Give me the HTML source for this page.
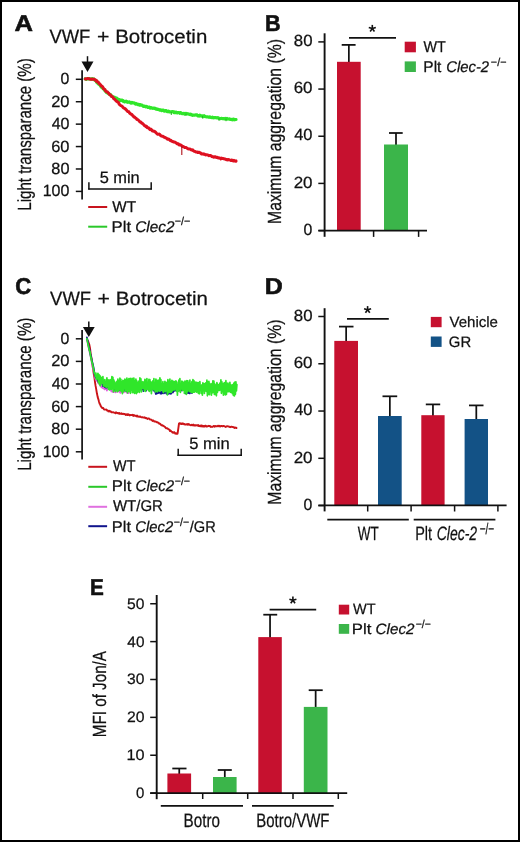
<!DOCTYPE html>
<html><head><meta charset="utf-8"><style>
html,body{margin:0;padding:0;background:#fff;}
body{width:520px;height:842px;overflow:hidden;position:relative;font-family:"Liberation Sans",sans-serif;}
#frame{position:absolute;left:0;top:0;width:516px;height:838px;border:2px solid #000;background:#fff;}
svg{position:absolute;left:0;top:0;will-change:transform;}
</style></head><body><div id="frame"></div>
<svg width="520" height="842" viewBox="0 0 520 842" font-family='"Liberation Sans", sans-serif' fill="#111" text-rendering="geometricPrecision"><line x1="82.10" y1="70.20" x2="82.10" y2="199.50" stroke="#111" stroke-width="1.7" stroke-linecap="butt"/><line x1="75.80" y1="79.30" x2="82.10" y2="79.30" stroke="#111" stroke-width="1.5" stroke-linecap="butt"/><line x1="75.80" y1="101.72" x2="82.10" y2="101.72" stroke="#111" stroke-width="1.5" stroke-linecap="butt"/><line x1="75.80" y1="124.14" x2="82.10" y2="124.14" stroke="#111" stroke-width="1.5" stroke-linecap="butt"/><line x1="75.80" y1="146.56" x2="82.10" y2="146.56" stroke="#111" stroke-width="1.5" stroke-linecap="butt"/><line x1="75.80" y1="168.98" x2="82.10" y2="168.98" stroke="#111" stroke-width="1.5" stroke-linecap="butt"/><line x1="75.80" y1="191.40" x2="82.10" y2="191.40" stroke="#111" stroke-width="1.5" stroke-linecap="butt"/><line x1="87.50" y1="56.20" x2="87.50" y2="62.50" stroke="#111" stroke-width="1.5" stroke-linecap="butt"/><path d="M81.50 61.50 L93.50 61.50 L87.50 71.90 Z" fill="#111"/><line x1="88.20" y1="188.90" x2="151.90" y2="188.90" stroke="#111" stroke-width="1.5" stroke-linecap="butt"/><line x1="88.90" y1="182.30" x2="88.90" y2="189.60" stroke="#111" stroke-width="1.5" stroke-linecap="butt"/><line x1="151.20" y1="182.30" x2="151.20" y2="189.60" stroke="#111" stroke-width="1.5" stroke-linecap="butt"/><path d="M85.2 78.9L85.6 79.0L86.2 79.3L86.9 78.9L87.7 78.9L88.5 79.0L89.3 78.6L90.2 78.9L91.0 79.1L91.8 79.3L92.5 78.7L93.1 79.0L94.1 79.1L94.9 80.3L95.5 80.7L96.1 80.7L96.8 82.3L97.5 83.0L98.3 83.6L99.0 84.5L99.8 85.0L100.5 85.7L101.2 87.0L102.0 87.4L102.7 88.2L103.5 89.0L104.2 89.5L104.9 90.7L105.7 91.3L106.4 92.4L107.2 92.6L107.9 93.3L108.6 93.7L109.3 94.3L110.1 94.6L110.8 94.8L111.5 96.0L112.2 96.5L113.0 96.8L113.7 97.2L114.5 97.3L115.2 97.6L115.9 98.1L116.7 98.2L117.4 99.2L118.2 99.1L118.9 99.8L119.6 99.7L120.2 100.5L120.9 100.6L121.6 100.0L122.6 100.5L123.2 101.4L123.9 101.1L124.6 101.8L125.4 101.4L126.2 101.2L127.0 102.0L127.8 102.3L128.6 102.0L129.3 101.9L130.0 102.3L130.8 103.1L131.4 103.1L131.9 102.5L132.5 102.8L133.2 102.8L134.1 102.9L135.4 104.0L135.9 103.5L136.4 104.0L137.0 104.1L137.6 104.0L138.2 104.7L138.9 104.3L139.6 105.0L140.3 104.6L141.0 105.1L141.7 105.1L142.5 105.4L143.2 106.3L144.0 106.3L144.8 106.1L145.6 106.8L146.3 106.4L147.1 106.8L147.9 107.4L148.6 107.4L149.4 107.1L150.1 108.1L150.8 107.5L151.5 107.7L152.3 108.4L153.0 108.1L153.7 108.3L154.5 108.2L155.2 108.4L155.9 109.1L156.7 108.9L157.4 109.4L158.1 109.3L158.9 109.5L159.6 110.2L160.3 109.9L161.1 110.1L161.8 110.6L162.5 110.0L163.3 110.1L164.0 111.0L164.7 111.1L165.5 110.6L166.2 110.7L166.9 111.4L167.7 111.7L168.5 111.1L169.2 111.9L170.0 112.0L170.8 111.8L171.6 111.8L172.3 111.6L173.1 111.6L173.9 112.6L174.7 112.0L175.4 112.6L176.2 112.2L176.9 112.9L177.6 112.8L178.3 112.6L179.0 112.5L179.7 113.2L180.3 112.6L180.9 112.8L181.5 113.3L182.4 113.7L183.3 113.6L184.1 113.4L184.8 114.1L185.4 113.5L186.0 113.4L186.7 113.8L187.3 114.0L187.9 113.8L188.5 114.0L189.2 114.3L190.0 114.6L190.6 114.2L191.3 114.5L192.0 115.2L192.7 115.3L193.4 115.1L194.1 115.2L194.8 115.2L195.5 114.8L196.3 114.8L197.0 114.9L197.7 115.9L198.4 115.7L199.2 116.1L199.9 115.2L200.6 115.9L201.3 115.9L202.0 116.2L202.7 115.9L203.4 116.6L204.1 115.8L204.8 116.4L205.6 116.6L206.3 116.9L207.0 116.8L207.7 116.9L208.4 117.0L209.1 117.3L209.8 116.8L210.5 117.2L211.2 117.5L211.9 117.6L212.6 117.2L213.3 117.7L213.9 117.8L214.6 117.6L215.3 117.7L216.0 117.6L216.7 117.9L217.3 118.0L218.0 117.6L218.7 118.2L219.5 118.6L220.2 118.6L220.9 118.5L221.7 118.3L222.4 118.7L223.1 118.6L223.8 118.6L224.6 119.0L225.4 118.4L226.2 119.1L227.0 118.4L227.8 119.1L228.6 119.0L229.4 118.9L230.2 119.4L230.9 119.3L231.6 119.5L232.3 119.8L232.9 119.2L233.5 119.0L234.0 119.4L234.4 119.8L236.0 119.5L236.0 119.5" fill="none" stroke="#30E62A" stroke-width="3.2" stroke-linejoin="round" stroke-linecap="round"/><path d="M85.2 78.9L85.6 79.1L86.2 79.1L86.9 78.6L87.7 78.4L88.5 78.8L89.3 78.7L90.2 79.3L91.0 79.2L91.8 79.1L92.5 79.2L93.1 79.4L94.1 79.1L94.9 79.7L95.5 79.9L96.1 81.1L96.8 80.8L97.5 82.1L98.3 82.1L99.0 83.5L99.8 83.9L100.5 84.8L101.2 86.1L102.0 86.1L102.7 87.0L103.5 88.7L104.2 89.1L104.9 89.5L105.7 91.1L106.4 91.8L107.2 91.7L107.9 92.7L108.6 93.1L109.3 94.0L110.1 95.0L110.8 95.2L111.5 96.4L112.2 96.5L113.0 97.3L113.7 98.7L114.5 99.1L115.2 99.8L115.9 100.7L116.7 101.3L117.4 101.9L118.2 102.2L118.9 103.6L119.6 104.6L120.3 105.2L121.0 105.6L121.8 106.0L122.6 106.8L123.2 107.6L123.9 108.2L124.6 108.2L125.3 108.9L126.0 109.6L126.8 110.5L127.7 111.5L128.3 111.7L128.9 111.8L129.6 113.2L130.3 113.4L131.0 114.2L131.8 114.5L132.5 115.4L133.2 116.0L134.0 117.0L134.7 117.0L135.4 118.0L136.2 118.3L136.9 119.5L137.7 119.5L138.5 120.3L139.2 121.0L140.0 121.9L140.8 122.0L141.6 123.0L142.3 123.3L143.1 124.0L143.8 124.7L144.5 125.7L145.2 125.7L145.9 126.7L146.6 126.4L147.3 127.7L148.0 127.6L148.7 127.9L149.4 128.9L150.1 129.6L150.8 129.1L151.6 129.9L152.3 130.9L153.1 130.9L153.9 131.3L154.7 131.5L155.4 132.0L156.2 133.0L157.0 133.8L157.7 134.3L158.5 134.2L159.3 134.1L160.0 134.8L160.8 135.7L161.6 136.1L162.4 136.3L163.1 136.3L163.9 137.0L164.7 137.3L165.4 137.8L166.2 137.9L167.0 138.9L167.7 139.3L168.5 138.9L169.2 139.4L170.0 140.4L170.8 140.2L171.5 141.2L172.3 141.2L173.0 141.7L173.8 142.1L174.6 142.0L175.3 142.4L176.1 142.8L176.8 143.6L177.6 144.0L178.4 143.8L179.1 144.9L179.9 144.8L180.7 145.0L181.5 145.5L182.2 146.4L182.8 146.3L183.5 146.6L184.2 147.2L184.9 147.5L185.6 147.6L186.3 147.6L187.0 148.1L187.7 148.7L188.5 148.9L189.2 149.0L190.0 149.0L190.6 149.3L191.3 150.0L192.0 150.1L192.7 149.8L193.4 150.8L194.1 151.2L194.8 151.4L195.5 151.8L196.3 152.1L197.0 152.0L197.7 152.5L198.4 152.3L199.2 152.3L199.9 152.8L200.6 153.0L201.3 153.9L202.0 153.8L202.7 153.9L203.4 154.2L204.1 153.9L204.8 154.5L205.6 154.9L206.3 154.7L207.0 154.8L207.7 155.1L208.4 155.2L209.1 155.7L209.8 155.4L210.5 155.5L211.2 155.9L211.9 156.5L212.6 156.7L213.3 156.8L213.9 157.2L214.6 156.8L215.3 156.7L216.0 157.3L216.7 157.4L217.3 157.3L218.0 158.0L218.7 157.8L219.5 157.9L220.2 158.1L220.9 158.9L221.7 158.1L222.4 158.6L223.1 158.6L223.8 158.7L224.6 159.1L225.4 159.0L226.2 159.8L227.0 159.5L227.8 159.9L228.6 159.5L229.4 159.9L230.2 160.1L230.9 160.5L231.6 160.0L232.3 160.3L232.9 160.8L233.5 160.9L234.0 160.4L234.4 160.7L236.0 161.2L236.0 160.8" fill="none" stroke="#DE1020" stroke-width="3.0" stroke-linejoin="round" stroke-linecap="round"/><line x1="181.80" y1="146.00" x2="181.80" y2="155.00" stroke="#B01018" stroke-width="1.1" stroke-linecap="butt"/><line x1="171.30" y1="112.00" x2="171.30" y2="115.00" stroke="#22B822" stroke-width="1.0" stroke-linecap="butt"/><line x1="202.50" y1="116.00" x2="202.50" y2="118.50" stroke="#22B822" stroke-width="1.0" stroke-linecap="butt"/><line x1="219.00" y1="118.00" x2="219.00" y2="120.80" stroke="#22B822" stroke-width="1.0" stroke-linecap="butt"/><line x1="226.00" y1="118.80" x2="226.00" y2="121.20" stroke="#22B822" stroke-width="1.0" stroke-linecap="butt"/><line x1="186.00" y1="113.80" x2="186.00" y2="115.80" stroke="#22B822" stroke-width="1.0" stroke-linecap="butt"/><line x1="88.20" y1="207.00" x2="107.20" y2="207.00" stroke="#C8141E" stroke-width="2.0" stroke-linecap="butt"/><line x1="88.20" y1="226.70" x2="107.20" y2="226.70" stroke="#2AC82A" stroke-width="2.0" stroke-linecap="butt"/><line x1="318.30" y1="41.90" x2="324.60" y2="41.90" stroke="#111" stroke-width="1.5" stroke-linecap="butt"/><line x1="318.30" y1="89.07" x2="324.60" y2="89.07" stroke="#111" stroke-width="1.5" stroke-linecap="butt"/><line x1="318.30" y1="136.24" x2="324.60" y2="136.24" stroke="#111" stroke-width="1.5" stroke-linecap="butt"/><line x1="318.30" y1="183.41" x2="324.60" y2="183.41" stroke="#111" stroke-width="1.5" stroke-linecap="butt"/><line x1="318.30" y1="230.58" x2="324.60" y2="230.58" stroke="#111" stroke-width="1.5" stroke-linecap="butt"/><line x1="348.85" y1="62.80" x2="348.85" y2="44.90" stroke="#111" stroke-width="1.75" stroke-linecap="butt"/><line x1="341.70" y1="44.90" x2="355.60" y2="44.90" stroke="#111" stroke-width="1.75" stroke-linecap="butt"/><rect x="337.00" y="61.80" width="23.70" height="168.80" fill="#C6112F"/><line x1="396.00" y1="145.50" x2="396.00" y2="133.00" stroke="#111" stroke-width="1.75" stroke-linecap="butt"/><line x1="389.00" y1="133.00" x2="402.70" y2="133.00" stroke="#111" stroke-width="1.75" stroke-linecap="butt"/><rect x="384.00" y="144.50" width="24.00" height="86.10" fill="#3BB54A"/><line x1="324.60" y1="33.30" x2="324.60" y2="236.80" stroke="#111" stroke-width="1.9" stroke-linecap="butt"/><line x1="318.40" y1="230.60" x2="427.00" y2="230.60" stroke="#111" stroke-width="1.9" stroke-linecap="butt"/><line x1="373.60" y1="230.60" x2="373.60" y2="236.90" stroke="#111" stroke-width="1.5" stroke-linecap="butt"/><line x1="418.60" y1="230.60" x2="418.60" y2="236.90" stroke="#111" stroke-width="1.5" stroke-linecap="butt"/><line x1="349.00" y1="37.80" x2="396.00" y2="37.80" stroke="#111" stroke-width="1.7" stroke-linecap="butt"/><line x1="372.30" y1="28.60" x2="372.30" y2="24.90" stroke="#111" stroke-width="1.6" stroke-linecap="butt"/><line x1="372.30" y1="28.60" x2="368.78" y2="27.46" stroke="#111" stroke-width="1.6" stroke-linecap="butt"/><line x1="372.30" y1="28.60" x2="370.13" y2="31.59" stroke="#111" stroke-width="1.6" stroke-linecap="butt"/><line x1="372.30" y1="28.60" x2="374.47" y2="31.59" stroke="#111" stroke-width="1.6" stroke-linecap="butt"/><line x1="372.30" y1="28.60" x2="375.82" y2="27.46" stroke="#111" stroke-width="1.6" stroke-linecap="butt"/><rect x="404.70" y="41.70" width="11.20" height="10.60" fill="#C6112F"/><rect x="404.70" y="61.40" width="11.20" height="10.60" fill="#3BB54A"/><line x1="82.10" y1="330.00" x2="82.10" y2="459.50" stroke="#111" stroke-width="1.7" stroke-linecap="butt"/><line x1="75.80" y1="338.80" x2="82.10" y2="338.80" stroke="#111" stroke-width="1.5" stroke-linecap="butt"/><line x1="75.80" y1="361.40" x2="82.10" y2="361.40" stroke="#111" stroke-width="1.5" stroke-linecap="butt"/><line x1="75.80" y1="384.00" x2="82.10" y2="384.00" stroke="#111" stroke-width="1.5" stroke-linecap="butt"/><line x1="75.80" y1="406.60" x2="82.10" y2="406.60" stroke="#111" stroke-width="1.5" stroke-linecap="butt"/><line x1="75.80" y1="429.20" x2="82.10" y2="429.20" stroke="#111" stroke-width="1.5" stroke-linecap="butt"/><line x1="75.80" y1="451.80" x2="82.10" y2="451.80" stroke="#111" stroke-width="1.5" stroke-linecap="butt"/><line x1="88.80" y1="321.50" x2="88.80" y2="328.00" stroke="#111" stroke-width="1.5" stroke-linecap="butt"/><path d="M82.90 327.00 L94.70 327.00 L88.80 337.00 Z" fill="#111"/><line x1="177.50" y1="455.30" x2="241.90" y2="455.30" stroke="#111" stroke-width="1.5" stroke-linecap="butt"/><line x1="178.20" y1="448.70" x2="178.20" y2="456.00" stroke="#111" stroke-width="1.5" stroke-linecap="butt"/><line x1="241.20" y1="448.70" x2="241.20" y2="456.00" stroke="#111" stroke-width="1.5" stroke-linecap="butt"/><path d="M86.9 338.9L87.5 340.2L88.3 341.7L89.2 344.3L90.0 348.0L90.7 353.7L91.5 358.5L92.3 363.8L93.0 368.5L93.8 374.1L94.4 377.5L95.0 382.1L95.6 385.9L96.2 389.1L96.9 393.3L97.7 397.1L98.5 399.6L99.0 401.8L99.6 403.6L100.1 404.3L100.8 406.2L101.5 407.1L102.1 408.0L102.6 407.9L103.2 408.0L103.9 409.3L104.6 409.6L105.4 409.6L106.2 409.5L106.7 409.9L107.2 410.6L107.8 410.4L108.3 411.4L108.9 411.1L109.5 410.8L110.1 411.6L110.8 411.4L111.5 412.3L112.2 412.4L113.0 412.1L113.8 412.5L114.3 412.7L114.9 412.9L115.4 413.2L116.0 412.2L116.7 412.7L117.3 413.2L118.0 412.9L118.6 413.4L119.3 412.9L120.0 414.0L120.7 413.7L121.4 413.3L122.0 414.1L122.7 413.8L123.3 413.8L124.0 414.2L124.6 413.9L125.1 414.1L125.7 415.0L126.2 414.8L127.0 414.1L127.7 415.1L128.4 414.3L129.1 414.8L129.7 415.5L130.3 415.2L130.9 414.9L131.4 415.0L132.0 415.1L132.6 414.8L133.2 415.9L133.8 414.9L134.4 415.4L135.1 415.9L135.7 415.6L136.4 416.4L137.0 415.6L137.6 416.6L138.3 416.7L138.9 416.5L139.6 416.9L140.2 416.5L140.9 417.1L141.5 417.3L142.1 417.1L142.8 417.2L143.4 417.6L144.1 417.5L144.7 417.3L145.3 418.2L146.0 417.9L146.6 418.3L147.3 418.9L147.9 418.4L148.6 418.4L149.2 418.7L149.8 419.5L150.5 419.5L151.1 419.6L151.8 420.1L152.5 420.9L153.1 420.4L153.8 420.8L154.4 421.6L155.0 421.6L155.7 421.5L156.3 422.0L156.9 422.3L157.6 422.2L158.2 422.8L158.8 423.0L159.4 423.9L160.0 423.7L160.7 424.4L161.3 425.2L161.9 425.5L162.5 425.2L163.1 425.8L163.7 425.9L164.3 426.4L165.0 426.9L165.6 427.8L166.2 428.4L166.9 428.1L167.5 428.3L168.2 429.3L168.8 429.3L169.4 429.7L170.0 431.0L170.6 430.5L171.3 431.6L171.9 431.6L172.6 432.6L173.3 432.8L174.0 432.1L174.6 432.5L175.2 433.7L175.7 433.4L176.2 433.3L176.6 433.8L177.5 433.8L177.8 432.0L178.4 427.9L179.0 423.5L179.4 423.2L179.8 423.1L181.0 424.0L181.4 424.0L181.8 423.4L182.2 424.0L182.7 423.4L183.2 423.5L183.8 424.2L184.3 424.0L185.0 424.6L185.6 424.4L186.3 424.5L187.1 423.9L187.9 424.8L188.7 424.0L189.6 424.7L190.1 425.1L190.5 425.2L191.0 425.2L191.6 424.7L192.1 425.1L192.6 425.3L193.2 424.5L193.8 425.6L194.4 425.6L195.0 425.1L195.6 425.6L196.2 425.3L196.8 425.1L197.4 425.7L198.1 425.0L198.7 426.0L199.4 426.2L200.0 425.5L200.7 426.3L201.3 425.4L202.0 426.4L202.6 425.7L203.3 426.6L203.9 426.0L204.5 426.6L205.2 425.6L205.8 425.7L206.4 426.6L207.0 426.5L207.6 426.4L208.2 425.8L208.9 426.0L209.5 426.2L210.1 425.9L210.8 427.0L211.4 426.7L212.1 427.0L212.7 426.7L213.4 426.2L214.0 425.9L214.6 426.7L215.3 425.9L215.9 426.4L216.6 426.3L217.2 426.4L217.8 425.8L218.4 425.8L219.0 426.4L219.6 425.8L220.2 426.4L220.8 425.9L221.4 426.1L222.0 425.9L222.6 426.4L223.1 426.2L223.7 426.0L224.2 426.1L224.9 426.5L225.7 427.0L226.4 426.4L227.2 426.2L227.9 426.4L228.6 426.4L229.4 426.9L230.1 427.2L230.8 427.0L231.4 426.6L232.1 426.9L232.7 427.0L233.3 427.2L233.9 427.2L234.4 428.0L234.9 427.5L235.4 427.7L235.8 427.8L236.2 427.7L236.5 428.0" fill="none" stroke="#CC1418" stroke-width="1.9" stroke-linejoin="round" stroke-linecap="round"/><path d="M86.9 339.5L87.4 341.8L87.9 344.1L88.4 346.4L88.9 348.8L89.4 351.1L89.9 353.4L90.4 355.8L90.9 357.9L91.4 360.1L91.9 363.2L92.4 364.9L92.9 367.8L93.4 369.5L93.9 372.2L94.4 373.4L94.9 376.9L95.4 378.9L95.9 378.8L96.4 380.4L96.9 381.0L97.4 379.3L97.9 382.9L98.4 382.8L98.9 382.1L99.4 381.5L99.9 385.7L100.4 384.4L100.9 385.9L101.4 387.1L101.9 386.7L102.4 388.0L102.9 386.0L103.4 388.1L103.9 386.8L104.4 389.3L104.9 389.3L105.4 386.1L105.9 386.4L106.4 387.0L106.9 390.5L107.4 388.3L107.9 389.3L108.4 388.1L108.9 389.1L109.4 388.7L109.9 388.7L110.4 389.8L110.9 389.9L111.4 391.4L111.9 390.5L112.4 391.7L112.9 391.5L113.4 392.1L113.9 390.8L114.4 388.6L114.9 391.8L115.4 392.3L115.9 392.1L116.4 390.6L116.9 391.3L117.4 389.2L117.9 391.9L118.4 390.8L118.9 389.6L119.4 388.7L119.9 392.2L120.4 392.8L120.9 388.8L121.4 392.0L121.9 390.3L122.4 389.2L122.9 389.8L123.4 391.9L123.9 392.4L124.4 388.8L124.9 391.3L125.4 388.8L125.9 391.8L126.4 390.1L126.9 392.5L127.4 393.0L127.9 390.9L128.4 393.1L128.9 390.1L129.4 389.0L129.9 391.3L130.4 388.8L130.9 389.6" fill="none" stroke="#E060E0" stroke-width="1.8" stroke-linejoin="round" stroke-linecap="round"/><path d="M86.9 337.5L87.4 339.8L87.9 342.1L88.4 344.4L88.9 346.8L89.4 349.1L89.9 351.4L90.4 353.8L90.9 356.1L91.4 358.1L91.9 360.7L92.4 362.7L92.9 364.8L93.4 366.9L93.9 369.4L94.4 373.2L94.9 375.3L95.4 376.6L95.9 377.6L96.4 376.6L96.9 377.7L97.4 379.5L97.9 380.7L98.4 381.8L98.9 382.5L99.4 379.9L99.9 382.5L100.4 383.2L100.9 383.0L101.4 382.1L101.9 383.7L102.4 382.5L102.9 386.2L103.4 386.2L103.9 385.3L104.4 384.5L104.9 387.2L105.4 386.1L105.9 387.6L106.4 387.6L106.9 386.5L107.4 386.3L107.9 387.2L108.4 386.7L108.9 385.7L109.4 386.4L109.9 388.6L110.4 385.6L110.9 385.7L111.4 388.2L111.9 386.9L112.4 388.0L112.9 387.8L113.4 387.4L113.9 390.0L114.4 386.9L114.9 387.8L115.4 387.1L115.9 388.8L116.4 387.4L116.9 387.8L117.4 389.4L117.9 387.8L118.4 388.7L118.9 390.2L119.4 387.0L119.9 386.8L120.4 387.5L120.9 389.7L121.4 389.1L121.9 387.6L122.4 388.0L122.9 387.5L123.4 388.6L123.9 386.9L124.4 389.6L124.9 390.4L125.4 390.6L125.9 389.8L126.4 390.7L126.9 386.9L127.4 388.0L127.9 390.7L128.4 390.0L128.9 388.5L129.4 390.7L129.9 389.4L130.4 390.2L130.9 388.1L131.4 387.7L131.9 388.7L132.4 387.5L132.9 388.5L133.4 390.8L133.9 388.3L134.4 387.0L134.9 387.1L135.4 387.6L135.9 390.1L136.4 388.4L136.9 388.1L137.4 387.4L137.9 390.9L138.4 388.7L138.9 387.8L139.4 387.2L139.9 387.2L140.4 387.7L140.9 389.7L141.4 387.6L141.9 387.1L142.4 388.9L142.9 388.0L143.4 391.0L143.9 387.5L144.4 389.1L144.9 390.1L145.4 388.6L145.9 390.9L146.4 388.9L146.9 388.0L147.4 388.6L147.9 387.1L148.4 388.7L148.9 388.0L149.4 390.6L149.9 390.3L150.4 389.0L150.9 387.1L151.4 388.0L151.9 388.0L152.4 387.8L152.9 387.9L153.4 390.5L153.9 387.6L154.4 387.2L154.9 390.7L155.4 392.3L155.9 394.0L156.4 391.6L156.9 393.6L157.4 392.6L157.9 393.2L158.4 393.0L158.9 392.0L159.4 390.4L159.9 390.8L160.4 393.5L160.9 393.6L161.4 393.7L161.9 391.3L162.4 392.6L162.9 393.2L163.4 392.6L163.9 393.3L164.4 392.1L164.9 392.6L165.4 392.7L165.9 391.1L166.4 393.7L166.9 393.8L167.4 390.3L167.9 393.9L168.4 393.8L168.9 392.7L169.4 390.2L169.9 393.6L170.4 390.5L170.9 393.9L171.4 392.7L171.9 390.2L172.4 390.7L172.9 392.5L173.4 389.3L173.9 390.0L174.4 390.7L174.9 387.9L175.4 387.0L175.9 390.7L176.4 387.1L176.9 390.5L177.4 387.5L177.9 390.2L178.4 390.1L178.9 390.5L179.4 389.2L179.9 390.5L180.4 387.8L180.9 389.7L181.4 388.3L181.9 390.6L182.4 390.1L182.9 388.9L183.4 389.1L183.9 387.1L184.4 387.1L184.9 389.4L185.4 392.0L185.9 393.5L186.4 392.4L186.9 390.6L187.4 391.5L187.9 393.1L188.4 392.1L188.9 390.0L189.4 393.4L189.9 393.3L190.4 390.3L190.9 392.2L191.4 391.5L191.9 393.1" fill="none" stroke="#12168E" stroke-width="1.8" stroke-linejoin="round" stroke-linecap="round"/><path d="M86.9 338.7L87.4 341.3L87.9 343.7L88.4 346.3L88.9 348.2L89.4 350.9L89.9 351.4L90.4 354.6L90.9 357.8L91.4 359.5L91.9 362.4L92.4 363.1L92.9 366.1L93.4 368.0L93.9 370.9L94.4 373.2L94.9 373.5L95.4 376.5L95.9 373.0L96.4 379.4L96.9 375.7L97.4 378.2L97.9 373.4L98.4 382.5L98.9 374.5L99.4 384.4L99.9 375.5L100.4 385.7L100.9 377.2L101.4 383.5L101.9 378.0L102.4 383.2L102.9 376.5L103.4 386.0L103.9 380.4L104.4 385.8L104.9 379.7L105.4 386.7L105.9 381.8L106.4 387.3L106.9 377.9L107.4 386.7L107.9 380.4L108.4 389.2L108.9 379.8L109.4 390.0L109.9 380.4L110.4 388.9L110.9 379.5L111.4 389.4L111.9 376.5L112.4 389.0L112.9 377.3L113.4 391.8L113.9 380.1L114.4 387.1L114.9 382.0L115.4 391.5L115.9 383.5L116.4 390.0L116.9 381.4L117.4 391.7L117.9 379.0L118.4 390.9L118.9 381.0L119.4 389.2L119.9 378.2L120.4 390.6L120.9 379.3L121.4 391.5L121.9 381.8L122.4 393.6L122.9 380.3L123.4 391.6L123.9 380.9L124.4 388.4L124.9 379.1L125.4 391.2L125.9 379.8L126.4 390.3L126.9 378.0L127.4 392.8L127.9 379.8L128.4 391.5L128.9 378.6L129.4 391.3L129.9 378.7L130.4 393.3L130.9 378.4L131.4 390.1L131.9 379.3L132.4 392.6L132.9 378.3L133.4 392.1L133.9 378.2L134.4 393.4L134.9 380.8L135.4 393.0L135.9 379.1L136.4 393.6L136.9 381.0L137.4 392.4L137.9 382.8L138.4 391.5L138.9 381.1L139.4 392.4L139.9 377.8L140.4 388.8L140.9 378.8L141.4 392.0L141.9 382.6L142.4 388.1L142.9 381.7L143.4 388.3L143.9 382.6L144.4 390.6L144.9 379.3L145.4 391.4L145.9 380.3L146.4 389.3L146.9 378.5L147.4 389.0L147.9 382.7L148.4 390.4L148.9 379.3L149.4 391.5L149.9 379.6L150.4 389.6L150.9 381.8L151.4 393.7L151.9 382.7L152.4 387.5L152.9 380.8L153.4 389.8L153.9 378.5L154.4 390.0L154.9 383.3L155.4 392.0L155.9 379.1L156.4 391.5L156.9 380.7L157.4 391.8L157.9 380.4L158.4 390.1L158.9 380.2L159.4 391.2L159.9 377.9L160.4 390.9L160.9 379.7L161.4 389.5L161.9 384.3L162.4 390.8L162.9 381.7L163.4 392.7L163.9 383.8L164.4 390.6L164.9 381.4L165.4 391.6L165.9 382.7L166.4 390.7L166.9 382.4L167.4 394.9L167.9 379.6L168.4 392.8L168.9 381.6L169.4 392.3L169.9 379.0L170.4 392.3L170.9 382.3L171.4 392.1L171.9 380.4L172.4 390.8L172.9 381.3L173.4 390.0L173.9 381.3L174.4 390.0L174.9 382.1L175.4 389.0L175.9 380.9L176.4 391.3L176.9 382.0L177.4 395.1L177.9 384.9L178.4 391.1L178.9 380.1L179.4 389.6L179.9 378.6L180.4 392.4L180.9 383.8L181.4 388.7L181.9 381.1L182.4 390.2L182.9 381.8L183.4 390.2L183.9 383.1L184.4 393.5L184.9 381.2L185.4 392.2L185.9 381.3L186.4 394.5L186.9 380.7L187.4 391.9L187.9 380.8L188.4 389.8L188.9 383.4L189.4 391.5L189.9 380.1L190.4 392.0L190.9 384.2L191.4 392.3L191.9 381.7L192.4 392.6L192.9 379.7L193.4 392.2L193.9 380.5L194.4 392.1L194.9 382.4L195.4 391.2L195.9 382.2L196.4 392.2L196.9 382.7L197.4 391.9L197.9 382.5L198.4 393.4L198.9 382.6L199.4 393.8L199.9 381.7L200.4 389.6L200.9 385.9L201.4 393.5L201.9 384.9L202.4 395.1L202.9 382.8L203.4 389.9L203.9 383.9L204.4 393.5L204.9 383.6L205.4 390.8L205.9 382.9L206.4 391.5L206.9 380.2L207.4 395.8L207.9 381.8L208.4 394.1L208.9 381.3L209.4 394.7L209.9 383.5L210.4 390.0L210.9 384.6L211.4 395.1L211.9 383.7L212.4 392.8L212.9 380.8L213.4 392.5L213.9 381.2L214.4 394.4L214.9 384.1L215.4 394.4L215.9 385.4L216.4 395.8L216.9 382.5L217.4 392.5L217.9 384.4L218.4 390.4L218.9 385.0L219.4 390.5L219.9 383.0L220.4 389.9L220.9 379.9L221.4 393.3L221.9 381.8L222.4 391.5L222.9 384.3L223.4 395.2L223.9 383.2L224.4 393.8L224.9 382.6L225.4 395.0L225.9 380.7L226.4 394.4L226.9 383.6L227.4 391.6L227.9 383.0L228.4 391.7L228.9 384.7L229.4 391.5L229.9 382.3L230.4 392.3L230.9 384.8L231.4 392.4L231.9 385.3L232.4 393.7L232.9 384.5L233.4 395.5L233.9 383.1L234.4 396.0L234.9 382.1L235.4 394.3L235.9 381.8L236.4 390.9L236.9 384.6" fill="none" stroke="#30E62A" stroke-width="1.7" stroke-linejoin="round" stroke-linecap="round"/><line x1="88.30" y1="466.80" x2="107.10" y2="466.80" stroke="#C8141E" stroke-width="2.0" stroke-linecap="butt"/><line x1="88.30" y1="486.80" x2="107.10" y2="486.80" stroke="#2AC82A" stroke-width="2.0" stroke-linecap="butt"/><line x1="88.30" y1="506.80" x2="107.10" y2="506.80" stroke="#E070E0" stroke-width="2.0" stroke-linecap="butt"/><line x1="88.30" y1="526.20" x2="107.10" y2="526.20" stroke="#10148C" stroke-width="2.0" stroke-linecap="butt"/><line x1="318.30" y1="316.50" x2="324.60" y2="316.50" stroke="#111" stroke-width="1.5" stroke-linecap="butt"/><line x1="318.30" y1="363.77" x2="324.60" y2="363.77" stroke="#111" stroke-width="1.5" stroke-linecap="butt"/><line x1="318.30" y1="411.04" x2="324.60" y2="411.04" stroke="#111" stroke-width="1.5" stroke-linecap="butt"/><line x1="318.30" y1="458.31" x2="324.60" y2="458.31" stroke="#111" stroke-width="1.5" stroke-linecap="butt"/><line x1="318.30" y1="505.58" x2="324.60" y2="505.58" stroke="#111" stroke-width="1.5" stroke-linecap="butt"/><line x1="346.15" y1="341.90" x2="346.15" y2="326.60" stroke="#111" stroke-width="1.75" stroke-linecap="butt"/><line x1="339.00" y1="326.60" x2="353.50" y2="326.60" stroke="#111" stroke-width="1.75" stroke-linecap="butt"/><rect x="334.30" y="340.90" width="23.70" height="164.70" fill="#C6112F"/><line x1="389.85" y1="417.00" x2="389.85" y2="396.30" stroke="#111" stroke-width="1.75" stroke-linecap="butt"/><line x1="382.50" y1="396.30" x2="397.20" y2="396.30" stroke="#111" stroke-width="1.75" stroke-linecap="butt"/><rect x="378.00" y="416.00" width="23.70" height="89.60" fill="#135286"/><line x1="432.95" y1="416.20" x2="432.95" y2="404.40" stroke="#111" stroke-width="1.75" stroke-linecap="butt"/><line x1="425.80" y1="404.40" x2="440.20" y2="404.40" stroke="#111" stroke-width="1.75" stroke-linecap="butt"/><rect x="421.30" y="415.20" width="23.30" height="90.40" fill="#C6112F"/><line x1="476.30" y1="420.00" x2="476.30" y2="405.40" stroke="#111" stroke-width="1.75" stroke-linecap="butt"/><line x1="469.00" y1="405.40" x2="483.50" y2="405.40" stroke="#111" stroke-width="1.75" stroke-linecap="butt"/><rect x="464.60" y="419.00" width="23.40" height="86.60" fill="#135286"/><line x1="324.60" y1="308.20" x2="324.60" y2="511.40" stroke="#111" stroke-width="1.9" stroke-linecap="butt"/><line x1="318.40" y1="505.40" x2="506.60" y2="505.40" stroke="#111" stroke-width="1.9" stroke-linecap="butt"/><line x1="367.70" y1="505.40" x2="367.70" y2="511.50" stroke="#111" stroke-width="1.5" stroke-linecap="butt"/><line x1="411.10" y1="505.40" x2="411.10" y2="511.50" stroke="#111" stroke-width="1.5" stroke-linecap="butt"/><line x1="454.60" y1="505.40" x2="454.60" y2="511.50" stroke="#111" stroke-width="1.5" stroke-linecap="butt"/><line x1="497.90" y1="505.40" x2="497.90" y2="511.50" stroke="#111" stroke-width="1.5" stroke-linecap="butt"/><line x1="327.30" y1="519.70" x2="408.80" y2="519.70" stroke="#111" stroke-width="1.8" stroke-linecap="butt"/><line x1="413.70" y1="519.70" x2="495.40" y2="519.70" stroke="#111" stroke-width="1.8" stroke-linecap="butt"/><line x1="347.00" y1="318.80" x2="388.80" y2="318.80" stroke="#111" stroke-width="1.7" stroke-linecap="butt"/><line x1="367.60" y1="309.80" x2="367.60" y2="306.10" stroke="#111" stroke-width="1.6" stroke-linecap="butt"/><line x1="367.60" y1="309.80" x2="364.08" y2="308.66" stroke="#111" stroke-width="1.6" stroke-linecap="butt"/><line x1="367.60" y1="309.80" x2="365.43" y2="312.79" stroke="#111" stroke-width="1.6" stroke-linecap="butt"/><line x1="367.60" y1="309.80" x2="369.77" y2="312.79" stroke="#111" stroke-width="1.6" stroke-linecap="butt"/><line x1="367.60" y1="309.80" x2="371.12" y2="308.66" stroke="#111" stroke-width="1.6" stroke-linecap="butt"/><rect x="430.80" y="316.90" width="10.80" height="10.30" fill="#C6112F"/><rect x="430.80" y="336.50" width="10.80" height="10.40" fill="#135286"/><line x1="150.20" y1="603.75" x2="156.70" y2="603.75" stroke="#111" stroke-width="1.5" stroke-linecap="butt"/><line x1="150.20" y1="641.62" x2="156.70" y2="641.62" stroke="#111" stroke-width="1.5" stroke-linecap="butt"/><line x1="150.20" y1="679.49" x2="156.70" y2="679.49" stroke="#111" stroke-width="1.5" stroke-linecap="butt"/><line x1="150.20" y1="717.36" x2="156.70" y2="717.36" stroke="#111" stroke-width="1.5" stroke-linecap="butt"/><line x1="150.20" y1="755.23" x2="156.70" y2="755.23" stroke="#111" stroke-width="1.5" stroke-linecap="butt"/><line x1="150.20" y1="793.10" x2="156.70" y2="793.10" stroke="#111" stroke-width="1.5" stroke-linecap="butt"/><line x1="179.25" y1="774.50" x2="179.25" y2="768.50" stroke="#111" stroke-width="1.75" stroke-linecap="butt"/><line x1="172.30" y1="768.50" x2="186.50" y2="768.50" stroke="#111" stroke-width="1.75" stroke-linecap="butt"/><rect x="167.40" y="773.50" width="23.70" height="19.60" fill="#C6112F"/><line x1="224.80" y1="778.00" x2="224.80" y2="770.00" stroke="#111" stroke-width="1.75" stroke-linecap="butt"/><line x1="217.80" y1="770.00" x2="231.80" y2="770.00" stroke="#111" stroke-width="1.75" stroke-linecap="butt"/><rect x="213.00" y="777.00" width="23.60" height="16.10" fill="#3BB54A"/><line x1="270.05" y1="638.10" x2="270.05" y2="614.70" stroke="#111" stroke-width="1.75" stroke-linecap="butt"/><line x1="263.30" y1="614.70" x2="277.20" y2="614.70" stroke="#111" stroke-width="1.75" stroke-linecap="butt"/><rect x="258.30" y="637.10" width="23.50" height="156.00" fill="#C6112F"/><line x1="315.65" y1="707.90" x2="315.65" y2="690.20" stroke="#111" stroke-width="1.75" stroke-linecap="butt"/><line x1="308.70" y1="690.20" x2="322.70" y2="690.20" stroke="#111" stroke-width="1.75" stroke-linecap="butt"/><rect x="303.80" y="706.90" width="23.70" height="86.20" fill="#3BB54A"/><line x1="156.70" y1="595.00" x2="156.70" y2="799.20" stroke="#111" stroke-width="1.9" stroke-linecap="butt"/><line x1="150.20" y1="793.10" x2="347.20" y2="793.10" stroke="#111" stroke-width="1.9" stroke-linecap="butt"/><line x1="202.70" y1="793.10" x2="202.70" y2="799.00" stroke="#111" stroke-width="1.5" stroke-linecap="butt"/><line x1="247.70" y1="793.10" x2="247.70" y2="799.00" stroke="#111" stroke-width="1.5" stroke-linecap="butt"/><line x1="293.00" y1="793.10" x2="293.00" y2="799.00" stroke="#111" stroke-width="1.5" stroke-linecap="butt"/><line x1="338.30" y1="793.10" x2="338.30" y2="799.00" stroke="#111" stroke-width="1.5" stroke-linecap="butt"/><line x1="160.80" y1="805.90" x2="243.00" y2="805.90" stroke="#111" stroke-width="1.8" stroke-linecap="butt"/><line x1="252.00" y1="805.90" x2="333.70" y2="805.90" stroke="#111" stroke-width="1.8" stroke-linecap="butt"/><line x1="269.60" y1="609.60" x2="316.20" y2="609.60" stroke="#111" stroke-width="1.7" stroke-linecap="butt"/><line x1="292.90" y1="600.30" x2="292.90" y2="596.60" stroke="#111" stroke-width="1.6" stroke-linecap="butt"/><line x1="292.90" y1="600.30" x2="289.38" y2="599.16" stroke="#111" stroke-width="1.6" stroke-linecap="butt"/><line x1="292.90" y1="600.30" x2="290.73" y2="603.29" stroke="#111" stroke-width="1.6" stroke-linecap="butt"/><line x1="292.90" y1="600.30" x2="295.07" y2="603.29" stroke="#111" stroke-width="1.6" stroke-linecap="butt"/><line x1="292.90" y1="600.30" x2="296.42" y2="599.16" stroke="#111" stroke-width="1.6" stroke-linecap="butt"/><rect x="338.80" y="604.70" width="10.40" height="9.80" fill="#C6112F"/><rect x="338.80" y="624.00" width="10.40" height="9.80" fill="#3BB54A"/><g stroke="#111" stroke-width="0.25" stroke-linejoin="round"><text x="14.63" y="30.60" font-size="22.90" font-weight="bold" font-style="normal" textLength="18.49" lengthAdjust="spacingAndGlyphs" stroke="#111" stroke-width="0.6" stroke-linejoin="round">A</text><text x="49.42" y="42.60" font-size="19.30" font-weight="normal" font-style="normal" textLength="40.95" lengthAdjust="spacingAndGlyphs">VWF</text><text x="96.94" y="42.80" font-size="19.30" font-weight="normal" font-style="normal" textLength="12.41" lengthAdjust="spacingAndGlyphs">+</text><text x="115.16" y="42.60" font-size="19.30" font-weight="normal" font-style="normal" textLength="92.12" lengthAdjust="spacingAndGlyphs">Botrocetin</text><text transform="translate(31.40,210.71) rotate(-90)" font-size="19.00" font-weight="normal" font-style="normal" textLength="152.50" lengthAdjust="spacingAndGlyphs">Light transparance (%)</text><text x="60.57" y="84.30" font-size="16.30" font-weight="normal" font-style="normal" textLength="8.81" lengthAdjust="spacingAndGlyphs">0</text><text x="51.18" y="106.72" font-size="16.30" font-weight="normal" font-style="normal" textLength="18.32" lengthAdjust="spacingAndGlyphs">20</text><text x="51.68" y="129.14" font-size="16.30" font-weight="normal" font-style="normal" textLength="17.80" lengthAdjust="spacingAndGlyphs">40</text><text x="51.18" y="151.56" font-size="16.30" font-weight="normal" font-style="normal" textLength="18.32" lengthAdjust="spacingAndGlyphs">60</text><text x="51.35" y="173.98" font-size="16.30" font-weight="normal" font-style="normal" textLength="18.14" lengthAdjust="spacingAndGlyphs">80</text><text x="42.72" y="196.40" font-size="16.30" font-weight="normal" font-style="normal" textLength="26.70" lengthAdjust="spacingAndGlyphs">100</text><text x="99.64" y="183.20" font-size="16.50" font-weight="normal" font-style="normal" textLength="40.13" lengthAdjust="spacingAndGlyphs">5 min</text><text x="112.35" y="211.90" font-size="15.50" font-weight="normal" font-style="normal" textLength="23.83" lengthAdjust="spacingAndGlyphs">WT</text><text x="111.56" y="231.80" font-size="15.50" font-weight="normal" font-style="normal" textLength="19.56" lengthAdjust="spacingAndGlyphs">Plt</text><text x="135.28" y="231.80" font-size="15.50" font-weight="normal" font-style="italic" textLength="39.18" lengthAdjust="spacingAndGlyphs">Clec2</text><text x="174.66" y="225.38" font-size="11.50" textLength="15.64" lengthAdjust="spacingAndGlyphs">−/−</text><text x="264.89" y="30.60" font-size="22.90" font-weight="bold" font-style="normal" textLength="15.63" lengthAdjust="spacingAndGlyphs" stroke="#111" stroke-width="0.6" stroke-linejoin="round">B</text><text transform="translate(281.00,223.96) rotate(-90)" font-size="19.00" font-weight="normal" font-style="normal" textLength="185.01" lengthAdjust="spacingAndGlyphs">Maximum aggregation (%)</text><text x="293.83" y="46.10" font-size="16.20" font-weight="normal" font-style="normal" textLength="18.68" lengthAdjust="spacingAndGlyphs">80</text><text x="293.65" y="93.27" font-size="16.20" font-weight="normal" font-style="normal" textLength="18.87" lengthAdjust="spacingAndGlyphs">60</text><text x="294.17" y="140.44" font-size="16.20" font-weight="normal" font-style="normal" textLength="18.33" lengthAdjust="spacingAndGlyphs">40</text><text x="293.65" y="187.61" font-size="16.20" font-weight="normal" font-style="normal" textLength="18.87" lengthAdjust="spacingAndGlyphs">20</text><text x="303.57" y="234.78" font-size="16.20" font-weight="normal" font-style="normal" textLength="8.81" lengthAdjust="spacingAndGlyphs">0</text><text x="423.56" y="51.90" font-size="15.50" font-weight="normal" font-style="normal" textLength="22.30" lengthAdjust="spacingAndGlyphs">WT</text><text x="423.36" y="71.80" font-size="15.50" font-weight="normal" font-style="normal" textLength="18.05" lengthAdjust="spacingAndGlyphs">Plt</text><text x="446.21" y="71.80" font-size="15.50" font-weight="normal" font-style="italic" textLength="42.88" lengthAdjust="spacingAndGlyphs">Clec-2</text><text x="490.86" y="65.78" font-size="11.50" textLength="15.64" lengthAdjust="spacingAndGlyphs">−/−</text><text x="15.21" y="293.60" font-size="22.90" font-weight="bold" font-style="normal" textLength="16.00" lengthAdjust="spacingAndGlyphs" stroke="#111" stroke-width="0.6" stroke-linejoin="round">C</text><text x="50.12" y="305.00" font-size="19.30" font-weight="normal" font-style="normal" textLength="40.95" lengthAdjust="spacingAndGlyphs">VWF</text><text x="97.64" y="305.20" font-size="19.30" font-weight="normal" font-style="normal" textLength="12.41" lengthAdjust="spacingAndGlyphs">+</text><text x="115.86" y="305.00" font-size="19.30" font-weight="normal" font-style="normal" textLength="92.12" lengthAdjust="spacingAndGlyphs">Botrocetin</text><text transform="translate(31.40,470.81) rotate(-90)" font-size="19.00" font-weight="normal" font-style="normal" textLength="153.22" lengthAdjust="spacingAndGlyphs">Light transparance (%)</text><text x="60.57" y="343.80" font-size="16.30" font-weight="normal" font-style="normal" textLength="8.81" lengthAdjust="spacingAndGlyphs">0</text><text x="51.18" y="366.40" font-size="16.30" font-weight="normal" font-style="normal" textLength="18.32" lengthAdjust="spacingAndGlyphs">20</text><text x="51.68" y="389.00" font-size="16.30" font-weight="normal" font-style="normal" textLength="17.80" lengthAdjust="spacingAndGlyphs">40</text><text x="51.18" y="411.60" font-size="16.30" font-weight="normal" font-style="normal" textLength="18.32" lengthAdjust="spacingAndGlyphs">60</text><text x="51.35" y="434.20" font-size="16.30" font-weight="normal" font-style="normal" textLength="18.14" lengthAdjust="spacingAndGlyphs">80</text><text x="42.72" y="456.80" font-size="16.30" font-weight="normal" font-style="normal" textLength="26.70" lengthAdjust="spacingAndGlyphs">100</text><text x="189.24" y="449.30" font-size="16.50" font-weight="normal" font-style="normal" textLength="40.55" lengthAdjust="spacingAndGlyphs">5 min</text><text x="113.06" y="471.40" font-size="15.50" font-weight="normal" font-style="normal" textLength="22.40" lengthAdjust="spacingAndGlyphs">WT</text><text x="111.86" y="490.90" font-size="15.50" font-weight="normal" font-style="normal" textLength="19.56" lengthAdjust="spacingAndGlyphs">Plt</text><text x="135.60" y="490.90" font-size="15.50" font-weight="normal" font-style="italic" textLength="38.45" lengthAdjust="spacingAndGlyphs">Clec2</text><text x="174.67" y="484.58" font-size="11.50" textLength="15.42" lengthAdjust="spacingAndGlyphs">−/−</text><text x="112.95" y="511.40" font-size="15.50" font-weight="normal" font-style="normal" textLength="49.94" lengthAdjust="spacingAndGlyphs">WT/GR</text><text x="111.88" y="531.60" font-size="15.50" font-weight="normal" font-style="normal" textLength="19.23" lengthAdjust="spacingAndGlyphs">Plt</text><text x="135.31" y="531.60" font-size="15.50" font-weight="normal" font-style="italic" textLength="37.84" lengthAdjust="spacingAndGlyphs">Clec2</text><text x="173.87" y="525.78" font-size="11.50" textLength="15.42" lengthAdjust="spacingAndGlyphs">−/−</text><text x="189.80" y="531.60" font-size="15.50" font-weight="normal" font-style="normal" textLength="26.00" lengthAdjust="spacingAndGlyphs">/GR</text><text x="264.66" y="293.50" font-size="22.90" font-weight="bold" font-style="normal" textLength="18.00" lengthAdjust="spacingAndGlyphs" stroke="#111" stroke-width="0.6" stroke-linejoin="round">D</text><text transform="translate(281.00,504.76) rotate(-90)" font-size="19.00" font-weight="normal" font-style="normal" textLength="185.21" lengthAdjust="spacingAndGlyphs">Maximum aggregation (%)</text><text x="293.83" y="320.70" font-size="16.20" font-weight="normal" font-style="normal" textLength="18.68" lengthAdjust="spacingAndGlyphs">80</text><text x="293.65" y="367.97" font-size="16.20" font-weight="normal" font-style="normal" textLength="18.87" lengthAdjust="spacingAndGlyphs">60</text><text x="294.17" y="415.24" font-size="16.20" font-weight="normal" font-style="normal" textLength="18.33" lengthAdjust="spacingAndGlyphs">40</text><text x="293.65" y="462.51" font-size="16.20" font-weight="normal" font-style="normal" textLength="18.87" lengthAdjust="spacingAndGlyphs">20</text><text x="303.57" y="509.78" font-size="16.20" font-weight="normal" font-style="normal" textLength="8.81" lengthAdjust="spacingAndGlyphs">0</text><text x="357.77" y="540.30" font-size="19.40" font-weight="normal" font-style="normal" textLength="20.97" lengthAdjust="spacingAndGlyphs">WT</text><text x="415.14" y="539.70" font-size="19.40" font-weight="normal" font-style="normal" textLength="16.86" lengthAdjust="spacingAndGlyphs">Plt</text><text x="436.66" y="539.70" font-size="19.40" font-weight="normal" font-style="italic" textLength="40.52" lengthAdjust="spacingAndGlyphs">Clec-2</text><text x="479.70" y="533.86" font-size="15.50" textLength="14.57" lengthAdjust="spacingAndGlyphs">−/−</text><text x="449.45" y="326.50" font-size="15.00" font-weight="normal" font-style="normal" textLength="48.52" lengthAdjust="spacingAndGlyphs">Vehicle</text><text x="448.86" y="346.50" font-size="15.00" font-weight="normal" font-style="normal" textLength="22.29" lengthAdjust="spacingAndGlyphs">GR</text><text x="89.95" y="595.30" font-size="22.90" font-weight="bold" font-style="normal" textLength="13.82" lengthAdjust="spacingAndGlyphs" stroke="#111" stroke-width="0.6" stroke-linejoin="round">E</text><text transform="translate(105.80,737.22) rotate(-90)" font-size="19.00" font-weight="normal" font-style="normal" textLength="86.20" lengthAdjust="spacingAndGlyphs">MFI of Jon/A</text><text x="127.07" y="608.65" font-size="15.20" font-weight="normal" font-style="normal" textLength="17.39" lengthAdjust="spacingAndGlyphs">50</text><text x="127.39" y="646.52" font-size="15.20" font-weight="normal" font-style="normal" textLength="17.06" lengthAdjust="spacingAndGlyphs">40</text><text x="127.07" y="684.39" font-size="15.20" font-weight="normal" font-style="normal" textLength="17.39" lengthAdjust="spacingAndGlyphs">30</text><text x="126.91" y="722.26" font-size="15.20" font-weight="normal" font-style="normal" textLength="17.56" lengthAdjust="spacingAndGlyphs">20</text><text x="126.40" y="760.13" font-size="15.20" font-weight="normal" font-style="normal" textLength="18.09" lengthAdjust="spacingAndGlyphs">10</text><text x="136.00" y="798.00" font-size="15.20" font-weight="normal" font-style="normal" textLength="8.34" lengthAdjust="spacingAndGlyphs">0</text><text x="183.58" y="827.30" font-size="19.40" font-weight="normal" font-style="normal" textLength="36.43" lengthAdjust="spacingAndGlyphs">Botro</text><text x="256.30" y="827.20" font-size="19.40" font-weight="normal" font-style="normal" textLength="73.19" lengthAdjust="spacingAndGlyphs">Botro/VWF</text><text x="353.05" y="613.80" font-size="15.00" font-weight="normal" font-style="normal" textLength="22.60" lengthAdjust="spacingAndGlyphs">WT</text><text x="351.86" y="634.20" font-size="15.00" font-weight="normal" font-style="normal" textLength="19.56" lengthAdjust="spacingAndGlyphs">Plt</text><text x="375.59" y="634.20" font-size="15.00" font-weight="normal" font-style="italic" textLength="38.87" lengthAdjust="spacingAndGlyphs">Clec2</text><text x="415.67" y="628.48" font-size="11.50" textLength="15.21" lengthAdjust="spacingAndGlyphs">−/−</text></g></svg>
</body></html>
